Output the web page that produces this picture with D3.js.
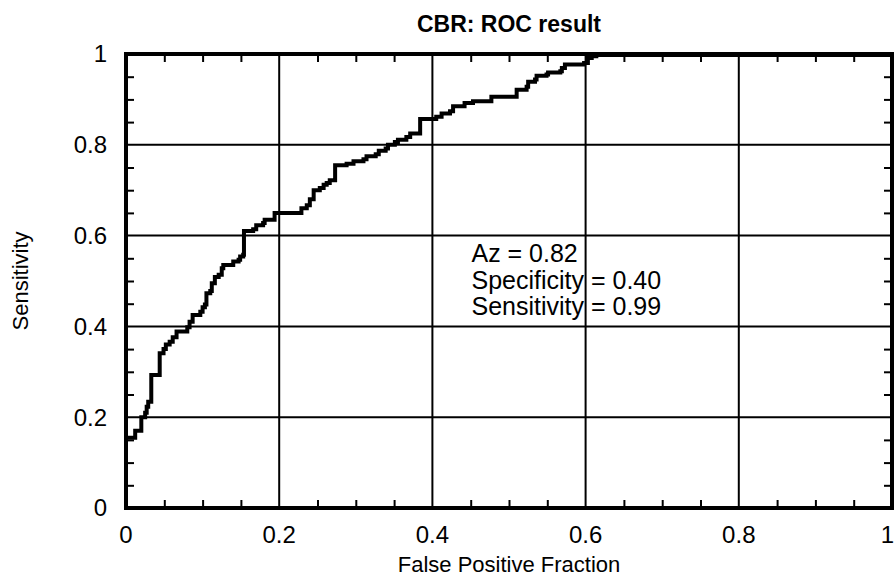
<!DOCTYPE html>
<html>
<head>
<meta charset="utf-8">
<script src="https://cdn.jsdelivr.net/npm/d3@7"></script>
<style>
  body { margin: 0; background: #fff; }
  text { font-family: "Liberation Sans", Arial, sans-serif; fill: #000; }
</style>
</head>
<body>
<div class="viz"></div>
<script>
// ROC staircase: at each fpf the sensitivity steps up to tpf
var fpf = [0, 0.012, 0.02, 0.025, 0.027, 0.029, 0.033, 0.044, 0.049, 0.052,
  0.057, 0.061, 0.066, 0.080, 0.083, 0.087, 0.097, 0.100, 0.103, 0.105,
  0.110, 0.112, 0.116, 0.121, 0.125, 0.127, 0.140, 0.147, 0.149, 0.153,
  0.154, 0.166, 0.170, 0.179, 0.181, 0.194, 0.229, 0.236, 0.240, 0.245,
  0.253, 0.258, 0.262, 0.266, 0.273, 0.288, 0.297, 0.310, 0.314, 0.326,
  0.330, 0.339, 0.342, 0.351, 0.355, 0.366, 0.371, 0.384, 0.405, 0.412,
  0.423, 0.427, 0.442, 0.453, 0.477, 0.510, 0.523, 0.525, 0.534, 0.536,
  0.549, 0.551, 0.567, 0.569, 0.573, 0.598, 0.603, 0.608, 0.614, 1.0];
var tpf = [0.155, 0.17, 0.20, 0.21, 0.223, 0.234, 0.293, 0.341, 0.35, 0.36,
  0.366, 0.376, 0.389, 0.398, 0.410, 0.425, 0.432, 0.442, 0.448, 0.473,
  0.478, 0.495, 0.509, 0.514, 0.528, 0.535, 0.543, 0.547, 0.554, 0.558,
  0.610, 0.614, 0.623, 0.628, 0.635, 0.650, 0.660, 0.667, 0.680, 0.700,
  0.705, 0.712, 0.716, 0.722, 0.755, 0.758, 0.764, 0.768, 0.775, 0.779,
  0.787, 0.792, 0.800, 0.806, 0.811, 0.817, 0.825, 0.857, 0.862, 0.869,
  0.874, 0.885, 0.892, 0.896, 0.906, 0.921, 0.928, 0.939, 0.944, 0.952,
  0.955, 0.959, 0.962, 0.969, 0.977, 0.980, 0.991, 0.995, 0.998, 0.999];

var gridTicks = [0, 0.2, 0.4, 0.6, 0.8, 1];
var tickLabels = ["0", "0.2", "0.4", "0.6", "0.8", "1"];
var notes = ["Az = 0.82", "Specificity = 0.40", "Sensitivity = 0.99"];

var W = 894, H = 579;
var margin = {top: 54, right: 2, bottom: 71, left: 126},
    width = W - margin.left - margin.right,
    height = H - margin.top - margin.bottom;

var x = d3.scaleLinear().domain([0, 1]).range([0, width]);
var y = d3.scaleLinear().domain([0, 1]).range([height, 0]);

var svg = d3.select(".viz").append("svg")
    .attr("width", W)
    .attr("height", H);
var g = svg.append("g")
    .attr("transform", "translate(" + margin.left + "," + margin.top + ")");

// grid lines
g.selectAll(".vgrid").data(gridTicks.slice(1, -1)).enter().append("line")
    .attr("x1", d => x(d)).attr("x2", d => x(d))
    .attr("y1", 0).attr("y2", height)
    .attr("stroke", "#000").attr("stroke-width", 2);
g.selectAll(".hgrid").data(gridTicks.slice(1, -1)).enter().append("line")
    .attr("y1", d => y(d)).attr("y2", d => y(d))
    .attr("x1", 0).attr("x2", width)
    .attr("stroke", "#000").attr("stroke-width", 2);

// minor ticks, inward on all four sides
var minor = d3.range(0.05, 1, 0.05).filter((d, i) => (i + 1) % 4 !== 0);
var tl = 8;
g.append("g").call(d3.axisBottom(x).tickValues(minor).tickSize(-tl).tickFormat(""))
    .attr("transform", "translate(0," + height + ")");
g.append("g").call(d3.axisTop(x).tickValues(minor).tickSize(-tl).tickFormat(""));
g.append("g").call(d3.axisLeft(y).tickValues(minor).tickSize(-tl).tickFormat(""));
g.append("g").call(d3.axisRight(y).tickValues(minor).tickSize(-tl).tickFormat(""))
    .attr("transform", "translate(" + width + ",0)");
g.selectAll(".domain").remove();
g.selectAll(".tick line").attr("stroke", "#000").attr("stroke-width", 2);

// ROC curve
var pts = fpf.map((d, i) => [d, tpf[i]]);
pts.unshift([0, 0]);
var line = d3.line().x(d => x(d[0])).y(d => y(d[1])).curve(d3.curveStepAfter);
g.append("path")
    .datum(pts)
    .attr("d", line)
    .attr("fill", "none")
    .attr("stroke", "#000")
    .attr("stroke-width", 4);

// frame
g.append("rect")
    .attr("width", width).attr("height", height)
    .attr("fill", "none").attr("stroke", "#000").attr("stroke-width", 4);

// tick labels
g.selectAll(".xl").data(gridTicks).enter().append("text")
    .attr("x", d => d === 1 ? x(d) + 2 : x(d)).attr("y", height + 35)
    .attr("text-anchor", d => d === 1 ? "end" : "middle")
    .style("font-size", "24px")
    .text((d, i) => tickLabels[i]);
g.selectAll(".yl").data(gridTicks).enter().append("text")
    .attr("x", -19).attr("y", d => y(d))
    .attr("dy", "0.35em")
    .attr("text-anchor", "end")
    .style("font-size", "24px")
    .text((d, i) => tickLabels[i]);

// title and axis labels
svg.append("text")
    .attr("x", margin.left + width / 2).attr("y", 32)
    .attr("text-anchor", "middle")
    .style("font-size", "23px").style("font-weight", "bold")
    .text("CBR: ROC result");
svg.append("text")
    .attr("x", margin.left + width / 2).attr("y", 572)
    .attr("text-anchor", "middle")
    .style("font-size", "22px")
    .text("False Positive Fraction");
svg.append("text")
    .attr("transform", "translate(28," + (margin.top + height / 2) + ") rotate(-90)")
    .attr("text-anchor", "middle")
    .style("font-size", "22px")
    .text("Sensitivity");

// annotation
g.selectAll(".note").data(notes).enter().append("text")
    .attr("x", x(0.451)).attr("y", (d, i) => y(0.541) + i * 26.5)
    .style("font-size", "25px")
    .text(d => d);
</script>
</body>
</html>
